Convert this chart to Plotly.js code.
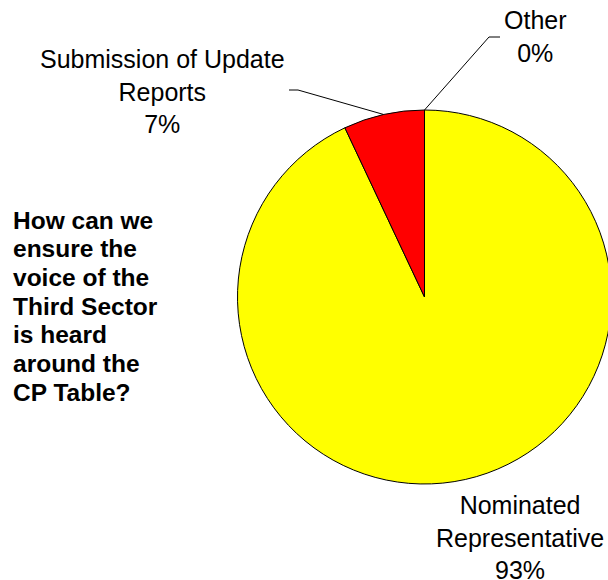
<!DOCTYPE html>
<html>
<head>
<meta charset="utf-8">
<script src="https://cdn.plot.ly/plotly-3.0.1.min.js"></script>
<style>
html,body{margin:0;padding:0;overflow:hidden;background:#fff;width:608px;height:580px;}
#chart{width:616px;height:580px;}
</style>
</head>
<body>
<div id="chart"></div>
<script>
// Data
const categories = ["Nominated Representative", "Submission of Update Reports", "Other"];
const values = [93, 7, 0];
const percentLabels = ["93%", "7%", "0%"];
const sliceColors = ["#FFFF00", "#FF0000", "#FFFFFF"];
const labelLines = [["Nominated", "Representative"], ["Submission of Update", "Reports"], ["Other"]];
const titleLines = ["How can we", "ensure the", "voice of the", "Third Sector", "is heard", "around the", "CP Table?"];

const W = 616, H = 580;
const cx = 424.5, cy = 297, R = 187;
const domX = [(cx - R) / W, (cx + R) / W];
const domY = [(H - (cy + R)) / H, (H - (cy - R)) / H];

const trace = {
  type: "pie",
  labels: categories,
  values: values,
  sort: false,
  direction: "clockwise",
  rotation: 0,
  textinfo: "none",
  hoverinfo: "label+percent",
  marker: {colors: sliceColors, line: {color: "#000000", width: 1}},
  domain: {x: domX, y: domY},
  showlegend: false
};

// slice mid-angles (clockwise from top) computed from data
const total = values.reduce((a, b) => a + b, 0);
let cum = 0;
const midAngles = values.map(v => { const m = (cum + v / 2) / total * 360; cum += v; return m; });
function arcPoint(deg) {
  const r = deg * Math.PI / 180;
  return [cx + R * Math.sin(r), cy - R * Math.cos(r)];
}
const px = x => x / W, py = y => 1 - y / H;

// label layout (position of label blocks, in pixels)
const labelPos = [
  {x: 520, y: 537.5},
  {x: 162, y: 92},
  {x: 535, y: 37}
];
const elbows = [null, {ex: 298, ey: 90, hx: 289}, {ex: 489, ey: 37, hx: 500}];

const annotations = [];
const shapes = [];
const fontLbl = {family: "Liberation Sans, Arial, sans-serif", size: 25, color: "#000"};
categories.forEach((c, i) => {
  const lines = labelLines[i].concat([percentLabels[i]]);
  annotations.push({
    xref: "paper", yref: "paper",
    x: px(labelPos[i].x), y: py(labelPos[i].y),
    xanchor: "center", yanchor: "middle",
    text: lines.join("<br>"), showarrow: false, align: "center",
    font: fontLbl
  });
  if (elbows[i]) {
    const p = arcPoint(midAngles[i]);
    const e = elbows[i];
    shapes.push({type: "path", xref: "paper", yref: "paper",
      path: `M ${px(p[0])} ${py(p[1])} L ${px(e.ex)} ${py(e.ey)} L ${px(e.hx)} ${py(e.ey)}`,
      line: {color: "#000", width: 1}});
  }
});

titleLines.forEach((t, i) => {
  annotations.push({
    xref: "paper", yref: "paper",
    x: px(11), y: py(220 + i * 28.7),
    xanchor: "left", yanchor: "middle",
    text: "<b>" + t + "</b>", showarrow: false, align: "left",
    font: {family: "Liberation Sans, Arial, sans-serif", size: 24.5, color: "#000"}
  });
});

const layout = {
  width: W, height: H,
  margin: {l: 0, r: 0, t: 0, b: 0},
  paper_bgcolor: "#ffffff",
  annotations: annotations,
  shapes: shapes
};

Plotly.newPlot("chart", [trace], layout, {displayModeBar: false, staticPlot: true});
</script>
</body>
</html>
